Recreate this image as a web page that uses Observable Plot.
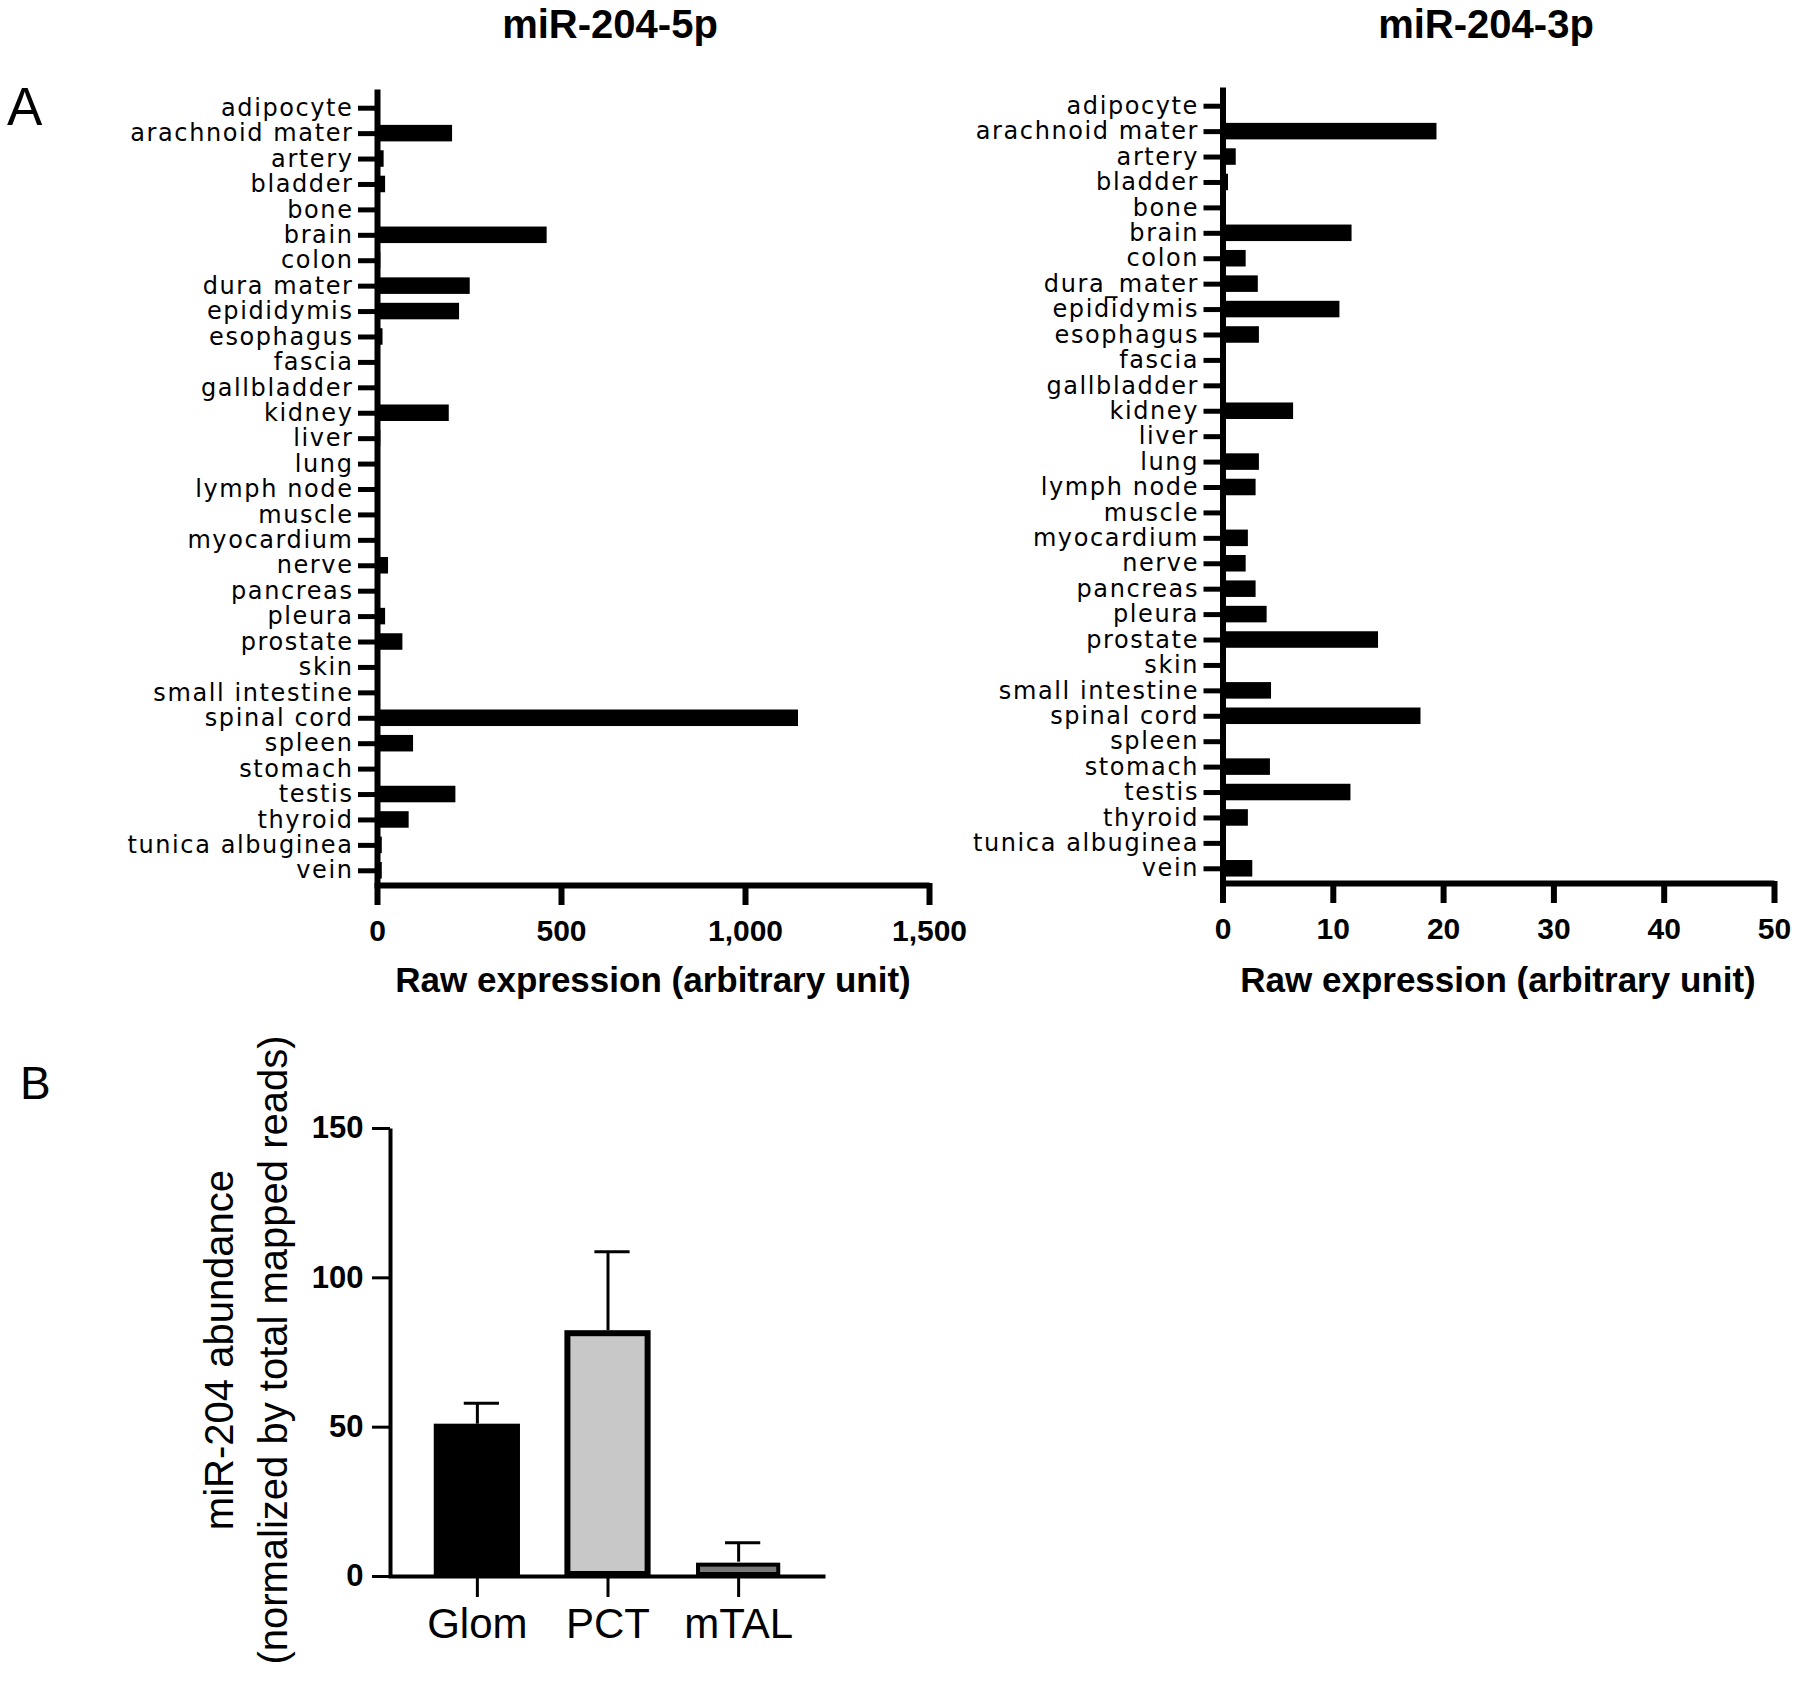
<!DOCTYPE html>
<html><head><meta charset="utf-8">
<script src="https://cdn.jsdelivr.net/npm/d3@7"></script>
<script src="https://cdn.jsdelivr.net/npm/@observablehq/plot@0.6"></script>
<style>
body{margin:0;background:#fff}
#root{position:relative;width:1800px;height:1691px;background:#fff;font-family:"Liberation Sans",Arial,sans-serif;color:#000;overflow:hidden}
.t{position:absolute;line-height:1;white-space:nowrap}
.abs{position:absolute}
.hb [aria-label="y-axis tick label"] text{letter-spacing:1.6px}
</style></head><body>
<div id="root">
  <div class="t" style="left:7px;top:80px;font-size:53px">A</div>
  <div class="t" style="left:20px;top:1060px;font-size:46px">B</div>
  <div class="t" style="left:410px;width:400px;text-align:center;top:4px;font-size:40px;font-weight:bold">miR-204-5p</div>
  <div class="t" style="left:1286px;width:400px;text-align:center;top:4px;font-size:40px;font-weight:bold">miR-204-3p</div>
  <div class="t" style="left:353px;width:600px;text-align:center;top:962px;font-size:35px;font-weight:bold">Raw expression (arbitrary unit)</div>
  <div class="t" style="left:1198px;width:600px;text-align:center;top:962px;font-size:35px;font-weight:bold">Raw expression (arbitrary unit)</div>
  <div class="abs" style="left:-104px;top:1296px;width:700px;height:108px;font-size:40px;line-height:54px;text-align:center;white-space:nowrap;transform:rotate(-90deg);transform-origin:50% 50%">miR-204 abundance<br>(normalized by total mapped reads)</div>
  <div id="c1" class="abs hb" style="left:0;top:0"></div>
  <div id="c2" class="abs hb" style="left:940px;top:0"></div>
  <div id="c3" class="abs" style="left:0;top:1040px"></div>
</div>
<script>
// ---- data ----
const tissues5p = ["adipocyte","arachnoid mater","artery","bladder","bone","brain","colon","dura mater","epididymis","esophagus","fascia","gallbladder","kidney","liver","lung","lymph node","muscle","myocardium","nerve","pancreas","pleura","prostate","skin","small intestine","spinal cord","spleen","stomach","testis","thyroid","tunica albuginea","vein"];
const values5p  = [0,204,18,22,0,461,9,252,223,15,0,0,195,9,0,0,0,0,30,0,22,69,0,0,1144,98,8,213,86,13,13];
const tissues3p = ["adipocyte","arachnoid mater","artery","bladder","bone","brain","colon","dura_mater","epididymis","esophagus","fascia","gallbladder","kidney","liver","lung","lymph node","muscle","myocardium","nerve","pancreas","pleura","prostate","skin","small intestine","spinal cord","spleen","stomach","testis","thyroid","tunica albuginea","vein"];
const values3p  = [0,19.4,1.2,0.5,0,11.7,2.1,3.2,10.6,3.3,0,0,6.4,0,3.3,3.0,0,2.3,2.1,3.0,4.0,14.1,0,4.4,17.95,0,4.3,11.6,2.3,0,2.7];
const ticks5p = [0,500,1000,1500];
const ticks3p = [0,10,20,30,40,50];
const cells  = ["Glom","PCT","mTAL"];
const means  = [51,82.3,4.8];
const uppers = [58,108.7,11.3];
const fills  = ["#000000","#c8c8c8","#787878"];
const borders = [6,6,4];
const ticksB = [0,50,100,150];

const FONT = "'Liberation Sans', Arial, sans-serif";

function hbar(tissues, values, ticks, fmt, o) {
  const data = tissues.map((t, i) => ({tissue: t, value: values[i]}));
  const w = o.width - o.marginLeft - o.marginRight;
  const h = o.height - o.marginTop - o.marginBottom + 6 + 2;
  return Plot.plot({
    width: o.width, height: o.height,
    marginLeft: o.marginLeft, marginRight: o.marginRight,
    marginTop: o.marginTop, marginBottom: o.marginBottom,
    style: {background: "transparent", overflow: "visible", fontFamily: FONT, color: "#000"},
    x: {domain: [ticks[0], ticks[ticks.length - 1]]},
    y: {domain: tissues, paddingInner: 0.35, paddingOuter: 0.175, round: false},
    marks: [
      Plot.barX(data, {x: "value", y: "tissue", fill: "#000"}),
      Plot.frame({stroke: "#000", strokeWidth: 6, insetTop: -6, insetBottom: -2,
                  strokeDasharray: `0 ${w + h} ${w + h} 0`}),
      Plot.axisY({label: null, tickSize: 19, tickPadding: 5, strokeWidth: 5, fontSize: 24,
                  fontFamily: "'DejaVu Sans', sans-serif", stroke: "#000", fill: "#000"}),
      Plot.axisX({label: null, ticks: ticks, tickFormat: fmt, tickSize: 22, tickPadding: 14, strokeWidth: 6,
                  fontSize: 30, fontWeight: "bold", stroke: "#000", fill: "#000"})
    ]
  });
}

document.getElementById("c1").append(hbar(tissues5p, values5p, ticks5p, d3.format(","),
  {width: 980, height: 1000, marginLeft: 377, marginRight: 51, marginTop: 95, marginBottom: 117}));
document.getElementById("c2").append(hbar(tissues3p, values3p, ticks3p, d3.format("d"),
  {width: 860, height: 1000, marginLeft: 282.5, marginRight: 26, marginTop: 93, marginBottom: 119}));

// ---- panel B ----
const bdata = cells.map((c, i) => ({cell: c, mean: means[i], upper: uppers[i], fill: fills[i], border: borders[i]}));
{
  const o = {width: 900, height: 651, marginLeft: 390, marginRight: 75, marginTop: 88, marginBottom: 115};
  const w = o.width - o.marginLeft - o.marginRight;
  const h = o.height - o.marginTop - o.marginBottom;
  const chart = Plot.plot({
    ...o,
    style: {background: "transparent", overflow: "visible", fontFamily: FONT, color: "#000"},
    x: {domain: cells, paddingInner: 0.34, paddingOuter: 0.335, round: false},
    y: {domain: [0, 150]},
    color: {type: "identity"},
    marks: [
      Plot.ruleX(bdata, {x: "cell", y1: "mean", y2: "upper", stroke: "#000", strokeWidth: 3}),
      Plot.tickY(bdata, {x: "cell", y: "upper", stroke: "#000", strokeWidth: 3, insetLeft: 30, insetRight: 21}),
      Plot.barY(bdata, {x: "cell", y: "mean", fill: "fill", stroke: "#000", strokeWidth: "border",
                        insetTop: 3, insetLeft: 3, insetRight: 3, insetBottom: 2}),
      Plot.frame({stroke: "#000", strokeWidth: 4, strokeDasharray: `0 ${w + h} ${w + h} 0`}),
      Plot.axisY({label: null, ticks: ticksB, tickSize: 18, tickPadding: 9, strokeWidth: 3,
                  fontSize: 31, fontWeight: "bold", stroke: "#000", fill: "#000"}),
      Plot.axisX({label: null, tickSize: 21, tickPadding: 11, strokeWidth: 3, fontSize: 42, stroke: "#000", fill: "#000"})
    ]
  });
  document.getElementById("c3").append(chart);
}
</script>
</body></html>
